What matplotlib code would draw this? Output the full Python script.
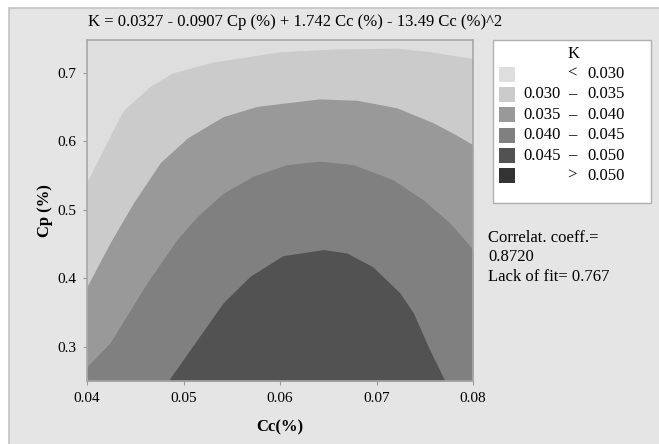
import matplotlib
matplotlib.use("Agg")
import matplotlib.pyplot as plt
from matplotlib.patches import Rectangle

plt.rcParams["font.family"] = ["Liberation Serif", "DejaVu Serif"]

# contour boundaries (Cc, Cp)
cc_030 = [0.040, 0.0437, 0.0465, 0.0489, 0.0531, 0.0569, 0.0600, 0.0660, 0.0721, 0.0755, 0.0800]
cp_030 = [0.541, 0.644, 0.680, 0.700, 0.716, 0.724, 0.731, 0.735, 0.736, 0.731, 0.721]

cc_035 = [0.040, 0.0424, 0.0448, 0.0476, 0.0504, 0.0541, 0.0576, 0.0641, 0.0680, 0.0721, 0.0759, 0.0783, 0.0800]
cp_035 = [0.388, 0.452, 0.510, 0.569, 0.605, 0.636, 0.651, 0.662, 0.660, 0.649, 0.627, 0.609, 0.595]

cc_040 = [0.040, 0.0424, 0.0462, 0.0493, 0.0514, 0.0541, 0.0572, 0.0607, 0.0641, 0.0676, 0.0717, 0.0748, 0.0776, 0.0800]
cp_040 = [0.271, 0.306, 0.393, 0.456, 0.490, 0.524, 0.549, 0.566, 0.571, 0.566, 0.544, 0.515, 0.481, 0.442]

cc_045 = [0.0484, 0.0541, 0.0569, 0.0603, 0.0645, 0.0669, 0.0696, 0.0724, 0.0738, 0.0755, 0.0771]
cp_045 = [0.250, 0.364, 0.403, 0.433, 0.442, 0.437, 0.417, 0.379, 0.350, 0.296, 0.250]

legend_left = ["", "0.030", "0.035", "0.040", "0.045", ""]
legend_sign = ["<", "–", "–", "–", "–", ">"]
legend_right = ["0.030", "0.035", "0.040", "0.045", "0.050", "0.050"]
shades = ["#dedede", "#cbcbcb", "#999999", "#808080", "#525252", "#333333"]

xticks = [0.04, 0.05, 0.06, 0.07, 0.08]
yticks = [0.3, 0.4, 0.5, 0.6, 0.7]

W, H = 659, 444
fs = 12
fig = plt.figure(figsize=(W / 100, H / 100), dpi=100, facecolor="white")

# gray panel behind everything
fig.patches.append(Rectangle((9 / W, -0.1), 1, 1.1 - 8 / H, transform=fig.transFigure,
                             facecolor="#e5e5e5", edgecolor="#c4c4c4", linewidth=1.2, zorder=-10))

ax = fig.add_axes([87 / W, 1 - 381 / H, 386 / W, 341 / H])
ax.set_facecolor(shades[0])
ax.set_xlim(0.04, 0.08)
ax.set_ylim(0.25, 0.748)

ax.fill_between(cc_030, 0.25, cp_030, color=shades[1], linewidth=0)
ax.fill_between(cc_035, 0.25, cp_035, color=shades[2], linewidth=0)
ax.fill_between(cc_040, 0.25, cp_040, color=shades[3], linewidth=0)
ax.fill_between(cc_045, 0.25, cp_045, color=shades[4], linewidth=0)

ax.set_xticks(xticks)
ax.set_xticklabels([f"{t:.2f}" for t in xticks])
ax.set_yticks(yticks)
ax.set_yticklabels([f"{t:.1f}" for t in yticks])
ax.tick_params(length=3, color="#999999", labelsize=11, pad=5)
for sp in ax.spines.values():
    sp.set_color("#a8a8a8")
    sp.set_linewidth(1.2)

ax.set_xlabel("Cc(%)", fontsize=12, fontweight="bold", labelpad=10)
ax.set_ylabel("Cp (%)", fontsize=12, fontweight="bold", labelpad=3)

fig.text(88 / W, 1 - 22 / H, "K = 0.0327 - 0.0907 Cp (%) + 1.742 Cc (%) - 13.49 Cc (%)^2",
         fontsize=fs, va="center", ha="left")

# legend box
fig.patches.append(Rectangle((493 / W, 1 - 203 / H), 158 / W, 163 / H, transform=fig.transFigure,
                             facecolor="white", edgecolor="#b0b0b0", linewidth=1, zorder=1))
fig.text(574 / W, 1 - 54 / H, "K", fontsize=fs, ha="center", va="center")
for i in range(len(shades)):
    y = 74 + i * 20.4
    fig.patches.append(Rectangle((499 / W, 1 - (y + 7.5) / H), 16 / W, 15 / H,
                                 transform=fig.transFigure, facecolor=shades[i],
                                 edgecolor="none", zorder=2))
    fig.text(561 / W, 1 - y / H, legend_left[i], fontsize=fs, ha="right", va="center")
    fig.text(572 / W, 1 - y / H, legend_sign[i], fontsize=fs, ha="center", va="center")
    fig.text(587 / W, 1 - y / H, legend_right[i], fontsize=fs, ha="left", va="center")

fig.text(488 / W, 1 - 238 / H, "Correlat. coeff.=", fontsize=fs, va="center")
fig.text(488 / W, 1 - 257 / H, "0.8720", fontsize=fs, va="center")
fig.text(488 / W, 1 - 277 / H, "Lack of fit= 0.767", fontsize=fs, va="center")

fig.savefig("out.png", dpi=100)
